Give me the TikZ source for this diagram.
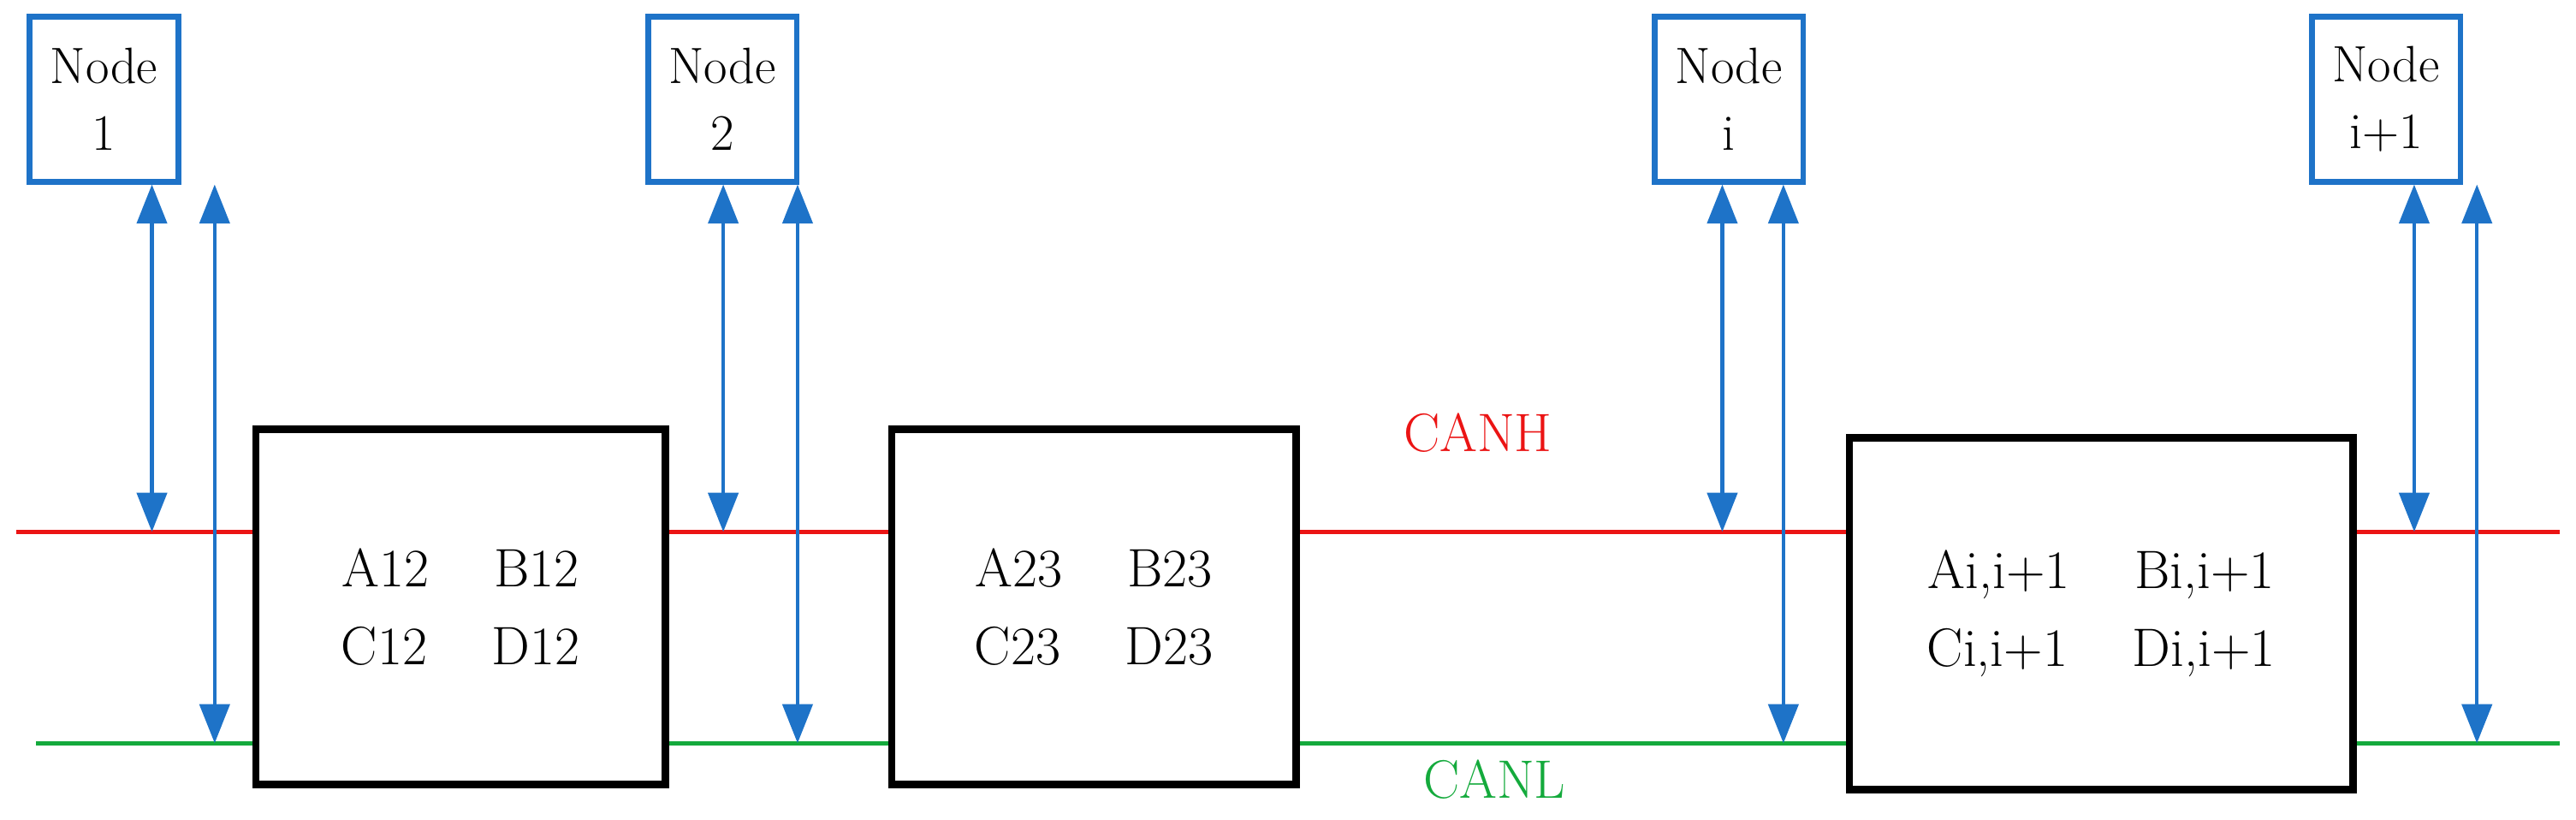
\documentclass[tikz,border=0pt]{standalone}
\usetikzlibrary{arrows.meta}
\definecolor{nblue}{RGB}{30,115,200}
\definecolor{cred}{RGB}{235,20,20}
\definecolor{cgreen}{RGB}{20,170,60}
\begin{document}
\begin{tikzpicture}[x=0.0193cm,y=-0.0193cm,
  nd/.style={draw=nblue,line width=1.9pt,minimum width=90*0.0193cm,minimum height=100*0.0193cm,align=center,font=\fontsize{17}{22}\selectfont,inner sep=0pt},
  bx/.style={draw=black,fill=white,line width=2.4pt,align=center,font=\fontsize{18}{26}\selectfont,inner sep=0pt},
  ar/.style={nblue,line width=1.2pt,{Triangle[length=13pt,width=10pt]}-{Triangle[length=13pt,width=10pt]}}]
\useasboundingbox (0,0) rectangle (1560,496);
\draw[cred,line width=1.4pt] (10,322) coordinate(h0) -- (1550,322) coordinate(h1);
\draw[cgreen,line width=1.4pt] (22,450) coordinate(l0) -- (1550,450) coordinate(l1);
\node[nd] (n1) at (63,60) {Node\\1};
\node[nd] (n2) at (437.5,60) {Node\\2};
\node[nd] (ni) at (1047,60) {Node\\i};
\node[nd] (nj) at (1445,60) {Node\\i+1};
\node[bx,minimum width=248*0.0193cm,minimum height=215*0.0193cm] (b1) at (279,367.5) {A12\hspace{1.2em}B12\\C12\hspace{1.2em}D12};
\node[bx,minimum width=245*0.0193cm,minimum height=215*0.0193cm] (b2) at (662.5,367.5) {A23\hspace{1.2em}B23\\C23\hspace{1.2em}D23};
\node[bx,minimum width=305*0.0193cm,minimum height=213*0.0193cm] (b3) at (1272.5,371.5) {Ai,i+1\hspace{1.2em}Bi,i+1\\Ci,i+1\hspace{1.2em}Di,i+1};
\node[text=cred,font=\fontsize{18}{20}\selectfont] (canh) at (895,262) {CANH};
\node[text=cgreen,font=\fontsize{18}{20}\selectfont] (canl) at (905,472) {CANL};
\foreach \n/\a/\b in {n1/92/130,n2/438/483,ni/1043/1080,nj/1462/1500}{
  \coordinate (\n ha) at (\a,322); \coordinate (\n la) at (\b,450);
  \draw[ar] (\n.south -| \n ha) -- (\n ha);
  \draw[ar] (\n.south -| \n la) -- (\n la);
}
\end{tikzpicture}
\end{document}
